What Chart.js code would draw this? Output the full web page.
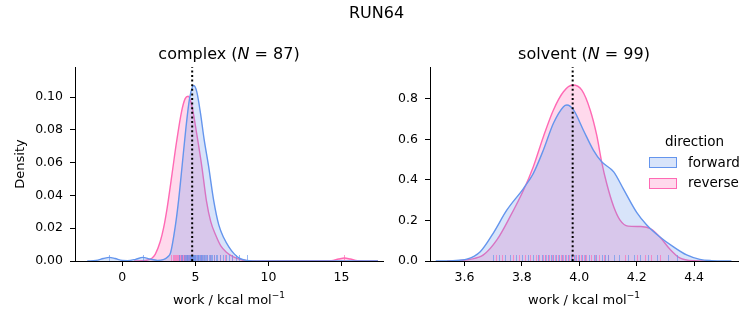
<!DOCTYPE html>
<html>
<head>
<meta charset="utf-8">
<script src="https://cdn.jsdelivr.net/npm/chart.js@4.4.1/dist/chart.umd.min.js"></script>
<style>
body { margin: 0; background: #fff; font-family: "DejaVu Sans", sans-serif; color: #000; }
#wrap { position: relative; width: 753px; height: 325px; overflow: hidden; }
canvas { position: absolute; left: 0; top: 0; }
.txt { position: absolute; white-space: nowrap; line-height: 1; }
.sup { font-size: 9px; position: relative; top: -6px; }
.patch { position: absolute; width: 26px; height: 9px; border: 1px solid; }
</style>
</head>
<body>
<div id="wrap">
  <canvas id="complexChart" width="753" height="325"></canvas>
  <canvas id="solventChart" width="753" height="325"></canvas>

  <div class="txt" style="left:376.5px; top:5px; font-size:16px; transform:translateX(-50%)">RUN64</div>
  <div class="txt" style="left:229px; top:46px; font-size:16px; transform:translateX(-50%)">complex (<i>N</i> = 87)</div>
  <div class="txt" style="left:584px; top:46px; font-size:16px; transform:translateX(-50%)">solvent (<i>N</i> = 99)</div>

  <div class="txt" style="left:229px; top:293px; font-size:13px; transform:translateX(-50%)">work / kcal mol<span class="sup">−1</span></div>
  <div class="txt" style="left:584px; top:293px; font-size:13px; transform:translateX(-50%)">work / kcal mol<span class="sup">−1</span></div>

  <div class="txt" style="left:694.5px; top:135px; font-size:13.5px; transform:translateX(-50%)">direction</div>
  <div class="patch" style="left:649px; top:157px; background:rgba(100,149,237,0.25); border-color:rgb(100,149,237)"></div>
  <div class="txt" style="left:688px; top:155.5px; font-size:13.5px">forward</div>
  <div class="patch" style="left:649px; top:178px; background:rgba(255,105,180,0.25); border-color:rgb(255,105,180)"></div>
  <div class="txt" style="left:688px; top:175.5px; font-size:13.5px">reverse</div>
</div>

<script>
// values

// complex leg: kde curves
const complexFwdX = [-2.4, -1.8, -1.3, -0.9, -0.5, 0.0, 0.35, 0.9, 1.4, 1.9, 2.4, 2.8, 3.1, 3.3, 3.62, 3.85, 4.08, 4.35, 4.6, 4.89, 5.1, 5.35, 5.6, 5.9, 6.25, 6.6, 6.95, 7.3, 7.64, 8.0, 8.5, 9.5, 17.5];
const complexFwdY = [0, 0.0004, 0.0015, 0.0022, 0.0015, 0.0003, 0.0002, 0.001, 0.0022, 0.0012, 0.0004, 0.0008, 0.0025, 0.005, 0.021, 0.037, 0.057, 0.081, 0.099, 0.107, 0.103, 0.09, 0.074, 0.058, 0.037, 0.022, 0.014, 0.0085, 0.0045, 0.0018, 0.0004, 0, 0];
const complexRevX = [0.8, 1.6, 2.0, 2.25, 2.6, 2.82, 3.06, 3.4, 3.7, 4.05, 4.3, 4.5, 4.75, 5.1, 5.45, 5.75, 6.05, 6.4, 6.75, 7.1, 7.6, 8.2, 9.0, 14.3, 14.8, 15.2, 15.6, 16.1, 17.5];
const complexRevY = [0, 0.0004, 0.0015, 0.004, 0.012, 0.02, 0.032, 0.053, 0.072, 0.091, 0.099, 0.1005, 0.095, 0.077, 0.057, 0.037, 0.024, 0.0155, 0.009, 0.0055, 0.0025, 0.0006, 0, 0.0002, 0.0012, 0.0018, 0.0012, 0.0002, 0];

// solvent leg: kde curves
const solventFwdX = [3.50, 3.56, 3.608, 3.655, 3.70, 3.748, 3.806, 3.84, 3.875, 3.91, 3.945, 3.957, 3.98, 4.014, 4.049, 4.078, 4.12, 4.154, 4.2, 4.235, 4.28, 4.327, 4.374, 4.42, 4.46, 4.53];
const solventFwdY = [0, 0.002, 0.009, 0.046, 0.137, 0.252, 0.359, 0.433, 0.548, 0.68, 0.762, 0.77, 0.746, 0.647, 0.548, 0.49, 0.44, 0.355, 0.24, 0.178, 0.12, 0.071, 0.03, 0.008, 0.002, 0];
const solventRevX = [3.54, 3.58, 3.62, 3.666, 3.713, 3.759, 3.806, 3.84, 3.875, 3.91, 3.945, 3.977, 4.009, 4.038, 4.061, 4.078, 4.096, 4.12, 4.142, 4.17, 4.215, 4.25, 4.28, 4.316, 4.35, 4.4, 4.45];
const solventRevY = [0, 0.002, 0.008, 0.03, 0.104, 0.219, 0.351, 0.466, 0.614, 0.746, 0.836, 0.869, 0.844, 0.746, 0.62, 0.49, 0.38, 0.268, 0.202, 0.172, 0.17, 0.158, 0.12, 0.058, 0.015, 0.001, 0];

// rug marks (individual work values)
const complexFwdRug = [-0.9, 1.4, 3.9, 4.0, 4.1, 4.2, 4.3, 4.35, 4.4, 4.45, 4.5, 4.55, 4.6, 4.65, 4.7, 4.72, 4.75, 4.78, 4.82, 4.85, 4.88, 4.9, 4.95, 5.0, 5.05, 5.1, 5.15, 5.2, 5.25, 5.3, 5.35, 5.4, 5.45, 5.5, 5.6, 5.65, 5.7, 5.8, 5.9, 6.0, 6.1, 6.15, 6.3, 6.4, 6.5, 6.7, 6.9, 7.1, 7.3, 7.5, 7.8, 8.0, 8.5];
const complexRevRug = [3.3, 3.45, 3.55, 3.6, 3.7, 3.75, 3.8, 3.85, 3.9, 3.95, 4.0, 4.05, 4.1, 4.15, 4.2, 4.25, 4.3, 4.35, 4.4, 4.45, 4.5, 4.55, 4.6, 4.65, 4.7, 4.75, 4.8, 4.85, 4.9, 4.95, 5.0, 5.1, 5.2, 5.3, 5.45, 5.6, 5.8, 6.0, 6.3, 6.7, 7.0, 7.5, 15.2];
const solventFwdRug = [3.70, 3.72, 3.74, 3.76, 3.78, 3.80, 3.82, 3.84, 3.855, 3.87, 3.88, 3.89, 3.90, 3.91, 3.92, 3.93, 3.94, 3.95, 3.96, 3.97, 3.98, 3.99, 4.00, 4.01, 4.02, 4.035, 4.05, 4.06, 4.08, 4.09, 4.10, 4.12, 4.14, 4.17, 4.19, 4.21, 4.24, 4.27, 4.31, 4.34];
const solventRevRug = [3.71, 3.73, 3.77, 3.79, 3.81, 3.83, 3.85, 3.86, 3.875, 3.885, 3.895, 3.905, 3.915, 3.925, 3.935, 3.945, 3.955, 3.965, 3.975, 3.985, 3.995, 4.005, 4.015, 4.025, 4.04, 4.055, 4.07, 4.085, 4.1, 4.16, 4.2, 4.23, 4.25, 4.28];

// dotted reference lines
const complexMean = 4.78;
const solventMean = 3.977;

// axes
const complexXRange = [-3.24, 17.84];
const complexYMax = 0.1183;
const complexXTicks = [0, 5, 10, 15];
const complexYTicks = [0, 0.02, 0.04, 0.06, 0.08, 0.10];
const solventXRange = [3.48, 4.553];
const solventYMax = 0.958;
const solventXTicks = [3.6, 3.8, 4.0, 4.2, 4.4];
const solventYTicks = [0, 0.2, 0.4, 0.6, 0.8];

const BLUE = 'rgb(100,149,237)';
const PINK = 'rgb(255,105,180)';

Chart.defaults.font.family = '"DejaVu Sans", sans-serif';
Chart.defaults.color = '#000';

function toPoints(xs, ys) {
    return xs.map((x, i) => ({ x: x, y: ys[i] }));
}

// rug ticks along the bottom of the axes
const rugPlugin = {
    id: 'rug',
    afterDatasetDraw(chart, args, opts) {
        if (args.index !== 1) return; // after the kde curves, before the dotted line
        const ctx = chart.ctx;
        const xs = chart.scales.x;
        const bottom = chart.chartArea.bottom;
        ctx.save();
        ctx.lineWidth = 1;
        opts.sets.forEach(s => {
            ctx.strokeStyle = s.color;
            s.values.forEach(v => {
                const px = Math.round(xs.getPixelForValue(v)) + 0.5;
                ctx.beginPath();
                ctx.moveTo(px, bottom);
                ctx.lineTo(px, bottom - 6);
                ctx.stroke();
            });
        });
        ctx.restore();
    }
};

function makeChart(id, cfg) {
    const axisStyle = {
        grid: { drawOnChartArea: false, drawTicks: true, tickLength: 5, color: '#000', lineWidth: 1 },
        border: { display: true, color: '#000', width: 1 },
        z: 1
    };
    return new Chart(document.getElementById(id), {
        type: 'line',
        data: {
            datasets: [
                {
                    data: [{ x: cfg.mean, y: 0 }, { x: cfg.mean, y: cfg.yMax }],
                    borderColor: '#000', borderWidth: 2, borderDash: [2, 2.6],
                    pointRadius: 0, fill: false
                },
                {
                    label: 'forward',
                    data: toPoints(cfg.fwdX, cfg.fwdY),
                    borderColor: BLUE, backgroundColor: 'rgba(100,149,237,0.25)',
                    borderWidth: 1.4, pointRadius: 0, fill: 'origin',
                    cubicInterpolationMode: 'monotone'
                },
                {
                    label: 'reverse',
                    data: toPoints(cfg.revX, cfg.revY),
                    borderColor: PINK, backgroundColor: 'rgba(255,105,180,0.25)',
                    borderWidth: 1.4, pointRadius: 0, fill: 'origin',
                    cubicInterpolationMode: 'monotone'
                }
            ]
        },
        options: {
            responsive: false,
            animation: false,
            events: [],
            layout: { padding: cfg.padding },
            plugins: {
                legend: { display: false },
                tooltip: { enabled: false },
                rug: {
                    sets: [
                        { color: 'rgba(255,105,180,0.65)', values: cfg.revRug },
                        { color: 'rgba(100,149,237,0.65)', values: cfg.fwdRug }
                    ]
                }
            },
            scales: {
                x: Object.assign({
                    type: 'linear', min: cfg.xRange[0], max: cfg.xRange[1],
                    afterBuildTicks: s => { s.ticks = cfg.xTicks.map(v => ({ value: v })); },
                    afterFit: s => { s.height = 64; },
                    ticks: { font: { size: 12.5 }, padding: 4, maxRotation: 0, autoSkip: false,
                             callback: v => v.toFixed(cfg.xDigits) }
                }, axisStyle),
                y: Object.assign({
                    type: 'linear', min: 0, max: cfg.yMax,
                    afterBuildTicks: s => { s.ticks = cfg.yTicks.map(v => ({ value: v })); },
                    afterFit: s => { s.width = cfg.yWidth; },
                    title: { display: cfg.yTitle !== '', text: cfg.yTitle, font: { size: 13 },
                             padding: { top: 13, bottom: 0 } },
                    ticks: { font: { size: 12.5 }, padding: 7, autoSkip: false,
                             callback: v => v.toFixed(cfg.yDigits) }
                }, axisStyle)
            }
        },
        plugins: [rugPlugin]
    });
}

makeChart('complexChart', {
    fwdX: complexFwdX, fwdY: complexFwdY, revX: complexRevX, revY: complexRevY,
    fwdRug: complexFwdRug, revRug: complexRevRug, mean: complexMean,
    xRange: complexXRange, yMax: complexYMax, xTicks: complexXTicks, yTicks: complexYTicks,
    xDigits: 0, yDigits: 2, yWidth: 75, yTitle: 'Density',
    padding: { left: 0, right: 370, top: 67, bottom: 0 }
});

makeChart('solventChart', {
    fwdX: solventFwdX, fwdY: solventFwdY, revX: solventRevX, revY: solventRevY,
    fwdRug: solventFwdRug, revRug: solventRevRug, mean: solventMean,
    xRange: solventXRange, yMax: solventYMax, xTicks: solventXTicks, yTicks: solventYTicks,
    xDigits: 1, yDigits: 1, yWidth: 50, yTitle: '',
    padding: { left: 380, right: 15, top: 67, bottom: 0 }
});
</script>
</body>
</html>
